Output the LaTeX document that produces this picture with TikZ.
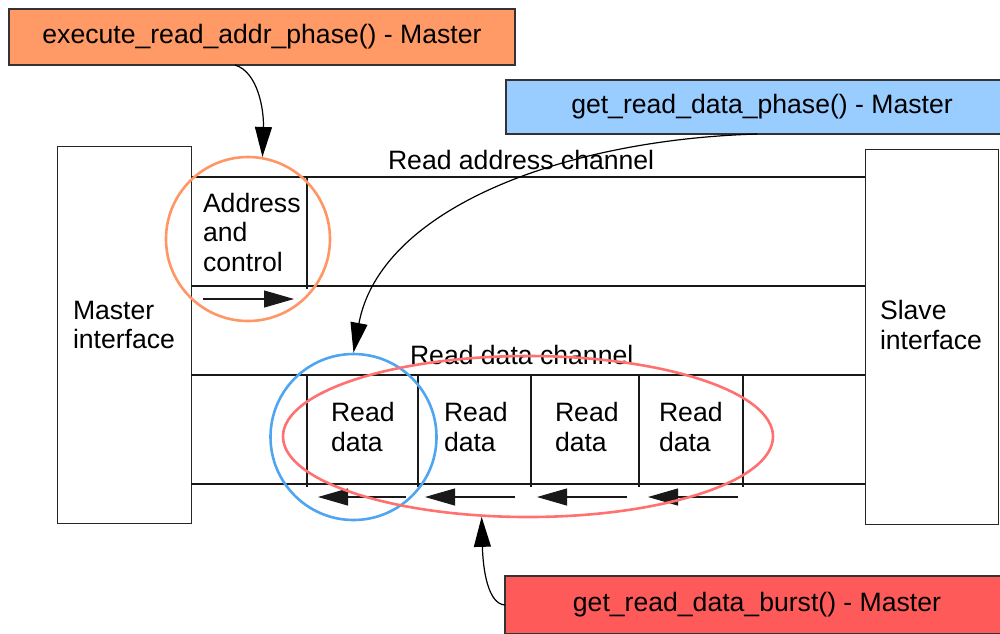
\documentclass[tikz,border=0pt]{standalone}
\usepackage{fontspec}
\setmainfont{Liberation Sans}
\usetikzlibrary{arrows.meta,shapes.geometric}
\definecolor{callorange}{RGB}{255,153,102}
\definecolor{callblue}{RGB}{153,204,255}
\definecolor{callred}{RGB}{255,90,90}
\definecolor{ringorange}{RGB}{255,150,100}
\definecolor{ringblue}{RGB}{80,165,240}
\definecolor{ringred}{RGB}{255,112,112}
\begin{document}
\begin{tikzpicture}[x=1pt,y=-1pt,
  txt/.style={font=\fontsize{26.6}{29.5}\selectfont, inner sep=0pt, outer sep=0pt, align=left, anchor=west},
  wire/.style={line width=1.1pt, draw=black!90},
  bigtip/.style={-{Triangle[length=30pt,width=17pt]}},
  callbox/.style={draw=black!80, line width=1.2pt, anchor=north west, inner sep=0pt, outer sep=0pt,
                  font=\fontsize{26.6}{29.5}\selectfont},
  ring/.style={circle, line width=2.6pt, inner sep=0pt, minimum size=#1},
  conn/.style={line width=1.2pt, draw=black, bigtip}
]
\useasboundingbox (0,0) rectangle (1000,633);
\clip (0,0) rectangle (1000,633);

% interface blocks
\node[draw=black!85, line width=1pt, anchor=north west, minimum width=134pt, minimum height=377pt, inner sep=0pt, outer sep=0pt] (mif) at (57,146) {};
\node[draw=black!85, line width=1pt, anchor=north west, minimum width=133pt, minimum height=375pt, inner sep=0pt, outer sep=0pt] (sif) at (865,149) {};
\node[txt] (mtxt) at (73,325) {Master\\interface};
\node[txt] (stxt) at (880,325) {Slave\\interface};

% read address channel
\draw[wire] (191,177) -- (865,177);
\draw[wire] (191,286) -- (865,286);
\draw[wire] (307,177) -- (307,289);
\node[txt] (actxt) at (203,232) {Address\\and\\control};
\node[txt] (rachan) at (388,160) {Read address channel};
\draw[wire, bigtip] (203,299) -- (294,299);

% read data channel
\draw[wire] (191,375) -- (865,375);
\draw[wire] (191,484) -- (865,484);
\foreach \xx in {307,418,531,639,743} \draw[wire] (\xx,375) -- (\xx,487);
\node[txt] (rdchan) at (410,355) {Read data channel};
\node[txt] (rd1) at (331,427) {Read\\data};
\node[txt] (rd2) at (444,427) {Read\\data};
\node[txt] (rd3) at (555,427) {Read\\data};
\node[txt] (rd4) at (659,427) {Read\\data};
\draw[wire, bigtip] (406,497) -- (318,497);
\draw[wire, bigtip] (515,497) -- (425,497);
\draw[wire, bigtip] (627,497) -- (537,497);
\draw[wire, bigtip] (738,497) -- (648,497);

% highlight rings
\node[ring=164pt, draw=ringorange] (ocirc) at (248,239) {};
\node[ring=166pt, draw=ringblue] (bcirc) at (353.5,437) {};
\node[ellipse, line width=2.6pt, draw=ringred, inner sep=0pt, minimum width=490pt, minimum height=161pt] (rell) at (528,436.5) {};

% call-out boxes
\node[callbox, fill=callorange, minimum width=506pt, minimum height=56pt] (oa) at (9,9) {execute\_read\_addr\_phase() - Master};
\node[callbox, fill=callblue, minimum width=512pt, minimum height=54pt] (ba) at (506,80) {get\_read\_data\_phase() - Master};
\node[callbox, fill=callred, minimum width=504pt, minimum height=58pt] (ra) at (505,576) {get\_read\_data\_burst() - Master};

% connectors
\coordinate (oStart) at (235,65);
\coordinate (bStart) at (757,134);
\draw[conn] (oStart) .. controls (258,72) and (264,110) .. (ocirc.80);
\draw[conn] (bStart) .. controls (560,140) and (380,210) .. (bcirc.north);
\draw[conn] (ra.west) .. controls (488,604) and (483,570) .. (rell.-120);
\end{tikzpicture}
\end{document}
